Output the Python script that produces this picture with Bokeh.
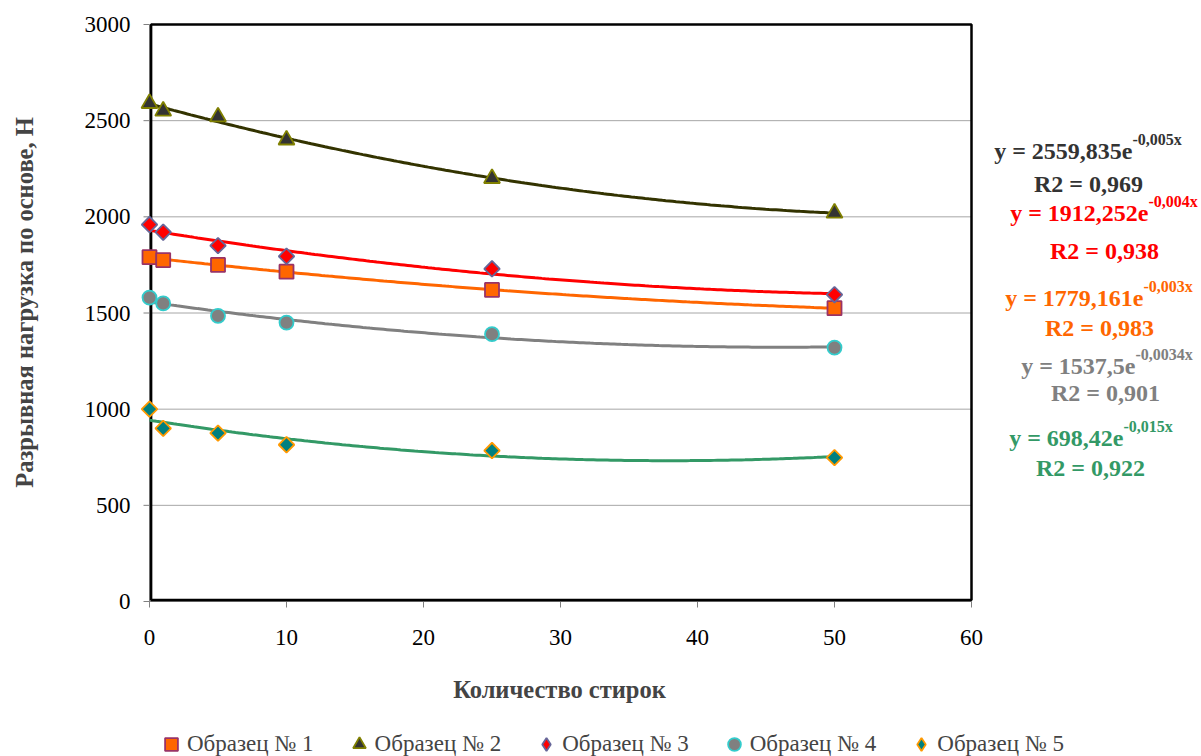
import numpy as np
from bokeh.plotting import figure
from bokeh.models import Label, Legend, LegendItem, Range1d
from bokeh.core.properties import value
from bokeh.embed import file_html
from bokeh.resources import INLINE

# Number of wash cycles
washes = [0, 1, 5, 10, 25, 50]

# Breaking load along the warp, N
sample_1 = [1790, 1775, 1750, 1715, 1620, 1525]
sample_2 = [2590, 2550, 2520, 2400, 2200, 2020]
sample_3 = [1960, 1920, 1850, 1795, 1730, 1595]
sample_4 = [1580, 1550, 1485, 1450, 1390, 1320]
sample_5 = [1000, 900, 875, 815, 785, 748]

series_names = ["Образец № 1", "Образец № 2", "Образец № 3", "Образец № 4", "Образец № 5"]

# Trend equations shown next to the plot (main part, exponent, R2)
eq_main = ["y = 2559,835e", "y = 1912,252e", "y = 1779,161e", "y = 1537,5e", "y = 698,42e"]
eq_exp = ["-0,005x", "-0,004x", "-0,003x", "-0,0034x", "-0,015x"]
eq_r2 = ["R2 = 0,969", "R2 = 0,938", "R2 = 0,983", "R2 = 0,901", "R2 = 0,922"]

x_ticks = [0, 10, 20, 30, 40, 50, 60]
y_ticks = [0, 500, 1000, 1500, 2000, 2500, 3000]

SERIF = "Liberation Serif"
W, H = 1201, 756
# plot box edges in page pixels
FL, FR, FT, FB = 149, 971, 24, 601
X0, X1, Y0, Y1 = 0, 60, 0, 3000

# The drawing area spans the whole page so that markers on the axes and the
# texts around the box are not clipped; the ranges put the box where it belongs.
kx = (FR - FL) / (X1 - X0)
ky = (FB - FT) / (Y1 - Y0)
x_range = Range1d(X0 - FL / kx, X1 + (W - FR) / kx)
y_range = Range1d(Y0 - (H - FB) / ky, Y1 + FT / ky)

p = figure(width=W, height=H, output_backend="svg", toolbar_location=None,
           x_range=x_range, y_range=y_range, x_axis_type=None, y_axis_type=None,
           min_border=0)
p.background_fill_color = "white"
p.border_fill_color = "white"
p.outline_line_color = None
p.grid.visible = False

# Horizontal grid lines
grid_y = [t for t in y_ticks if Y0 < t < Y1]
p.segment(x0=[X0] * len(grid_y), x1=[X1] * len(grid_y), y0=grid_y, y1=grid_y,
          line_color="#A6A6A6", line_width=1)

# Axis ticks and tick labels
tick_len = 6
p.segment(x0=[X0 - tick_len / kx] * len(y_ticks), x1=[X0] * len(y_ticks),
          y0=y_ticks, y1=y_ticks, line_color="#808080", line_width=1)
p.segment(x0=x_ticks, x1=x_ticks, y0=[Y0] * len(x_ticks),
          y1=[Y0 - tick_len / ky] * len(x_ticks), line_color="#808080", line_width=1)
p.text(x=[X0] * len(y_ticks), y=y_ticks, text=[str(t) for t in y_ticks],
       x_offset=-19, text_align="right", text_baseline="middle",
       text_font=value(SERIF), text_font_size="23px", text_color="black")
p.text(x=x_ticks, y=[Y0] * len(x_ticks), text=[str(t) for t in x_ticks],
       y_offset=36, text_align="center", text_baseline="middle",
       text_font=value(SERIF), text_font_size="23px", text_color="black")

# Plot box: grey axis lines with a black frame
p.segment(x0=[X0, X0], x1=[X0, X1], y0=[Y0, Y0], y1=[Y1, Y0],
          line_color="#808080", line_width=1)
p.quad(left=[X0 + 1.6 / kx], right=[X1], bottom=[Y0 + 1.6 / ky], top=[Y1],
       fill_color=None, line_color="black", line_width=2.5)

# Trend lines: quadratic fits of each sample
trend_colors = ["#FF6600", "#333300", "#FF0000", "#808080", "#339966"]
samples = [sample_1, sample_2, sample_3, sample_4, sample_5]
xs_fit = np.linspace(0, 50, 200)
for vals, col in zip(samples, trend_colors):
    coef = np.polyfit(washes, vals, 2)
    p.line(xs_fit, np.polyval(coef, xs_fit), line_color=col, line_width=3)

# Data markers (diamonds are squares turned by 45 degrees)
marker_style = [
    dict(marker="square", size=14, fill_color="#FF6600", line_color="#993366", angle=0),
    dict(marker="triangle", size=16, fill_color="#333333", line_color="#808000", angle=0),
    dict(marker="square", size=11, fill_color="#FF0000", line_color="#666699", angle=np.pi / 4),
    dict(marker="circle", size=14, fill_color="#808080", line_color="#33CCCC", angle=0),
    dict(marker="square", size=11, fill_color="#008080", line_color="#FF9900", angle=np.pi / 4),
]
legend_renderers = []
for vals, st in zip(samples, marker_style):
    r = p.scatter(washes, vals, line_width=1.8, **st)
    if st["angle"]:
        # legend swatches ignore the rotation: a hidden twin with a diamond shape
        sw = dict(st, marker="diamond", angle=0)
        r = p.scatter(washes, vals, line_width=1.8, visible=False, **sw)
    legend_renderers.append(r)

legend = Legend(items=[LegendItem(label=n, renderers=[r]) for n, r in zip(series_names, legend_renderers)],
                orientation="horizontal", location=(155, -4),
                glyph_width=32, glyph_height=32, label_standoff=0, spacing=29,
                padding=0, margin=0, border_line_color=None, background_fill_alpha=0,
                inactive_fill_alpha=0,
                label_text_font=SERIF, label_text_font_size="23px",
                label_text_baseline="middle")
p.add_layout(legend, "center")


def sx(px):
    return px


def sy(py):
    return H - py


# Axis titles
p.add_layout(Label(x=sx(559), y=sy(689), x_units="screen", y_units="screen",
                   text="Количество стирок", text_font=SERIF, text_font_size="24.5px",
                   text_font_style="bold", text_align="center", text_baseline="middle"))
p.add_layout(Label(x=sx(24), y=sy(302), x_units="screen", y_units="screen",
                   text="Разрывная нагрузка по основе, Н", text_font=SERIF,
                   text_font_size="24.5px", text_font_style="bold", angle=np.pi / 2,
                   text_align="center", text_baseline="middle"))

# Trend equations
eq_colors = ["#333333", "#FF0000", "#FF6600", "#808080", "#339966"]
eq_join = [1132, 1148, 1143, 1135, 1123]      # x where the exponent starts
eq_base = [150, 212, 297, 365, 437]           # baseline of equation line
r2_center = [1088, 1104, 1099, 1105, 1090]
r2_base = [183, 250, 327, 392, 467]
for i in range(5):
    col = eq_colors[i]
    p.add_layout(Label(x=sx(eq_join[i]), y=sy(eq_base[i]), x_units="screen", y_units="screen",
                       text=eq_main[i], text_font=SERIF, text_font_size="24px",
                       text_font_style="bold", text_color=col, text_align="right",
                       text_baseline="alphabetic"))
    p.add_layout(Label(x=sx(eq_join[i]), y=sy(eq_base[i] - 11), x_units="screen", y_units="screen",
                       text=eq_exp[i], text_font=SERIF, text_font_size="16px",
                       text_font_style="bold", text_color=col, text_align="left",
                       text_baseline="alphabetic"))
    p.add_layout(Label(x=sx(r2_center[i]), y=sy(r2_base[i]), x_units="screen", y_units="screen",
                       text=eq_r2[i], text_font=SERIF, text_font_size="24px",
                       text_font_style="bold", text_color=col, text_align="center",
                       text_baseline="alphabetic"))

open("out.html", "w").write(file_html(p, INLINE))
